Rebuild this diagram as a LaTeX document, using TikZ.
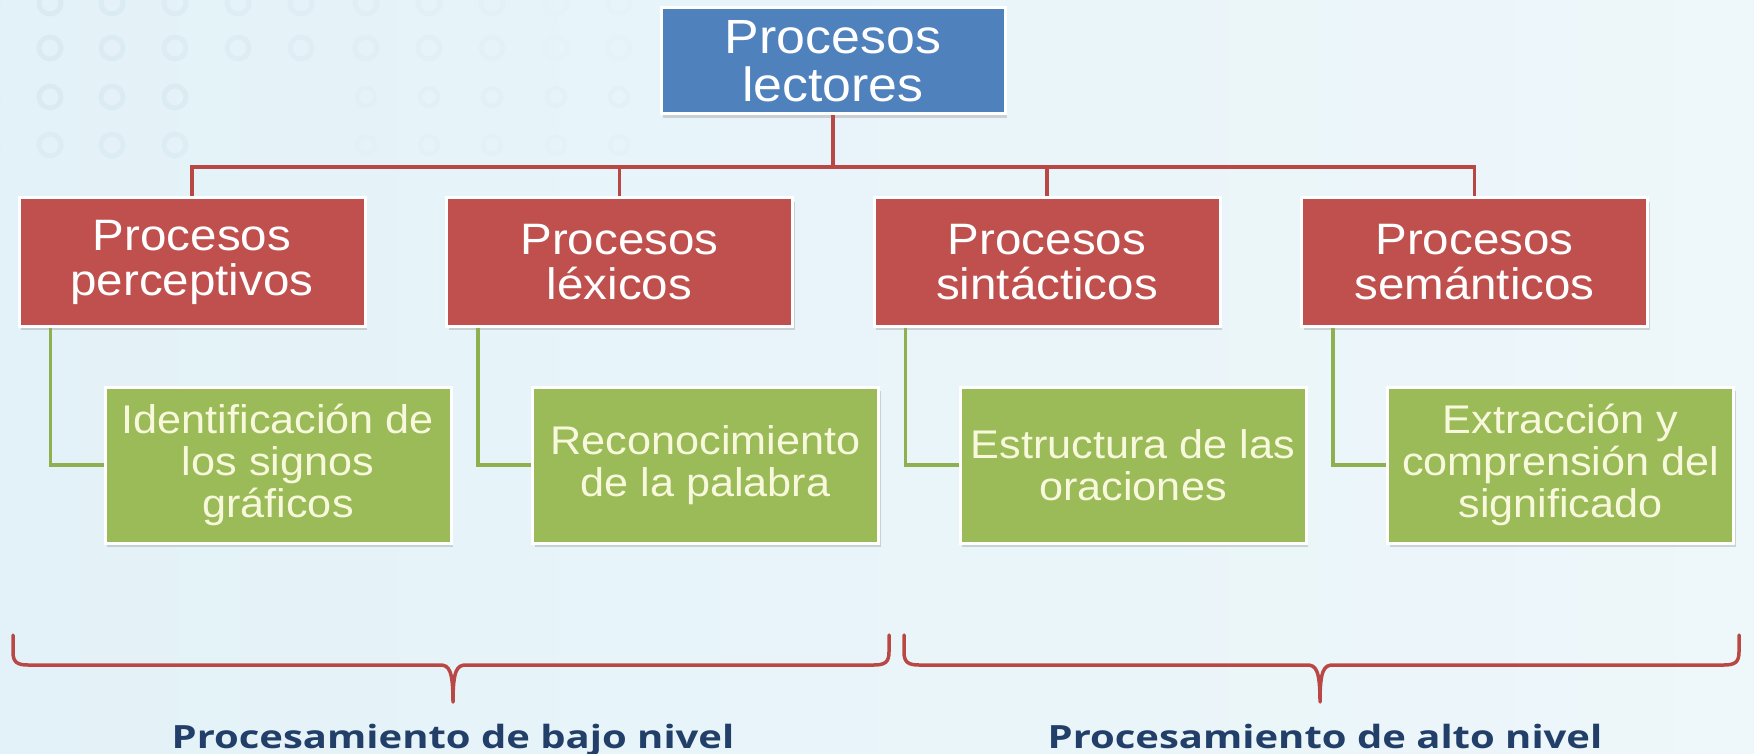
\documentclass[tikz,border=0pt]{standalone}
\usepackage{fontspec}
\setmainfont{Liberation Sans}[FakeStretch=1.08]
\newfontfamily\nivelfont{Open Sans}[FakeStretch=1.25]
\usepackage{tikz}
\usetikzlibrary{shadows}

\definecolor{azul}{HTML}{4F81BD}
\definecolor{rojo}{HTML}{C0504D}
\definecolor{verde}{HTML}{9BBB59}
\definecolor{crema}{HTML}{F8F9DC}
\definecolor{rojolinea}{HTML}{B94845}
\definecolor{verdelinea}{HTML}{8FB04F}
\definecolor{azuloscuro}{HTML}{223F69}
\definecolor{fondoA}{HTML}{E3F2F8}
\definecolor{fondoB}{HTML}{EEF7FA}
\definecolor{circulo}{HTML}{CFE3EA}

\tikzset{
  caja/.style={draw=white, line width=3pt, align=center, text=white, inner sep=0pt,
    minimum width=346pt, drop shadow={opacity=.3, shadow xshift=2pt, shadow yshift=-4pt}},
  raiz/.style={caja, fill=azul, minimum width=344pt, minimum height=106pt, font=\fontsize{48}{48}\selectfont},
  proceso/.style={caja, fill=rojo, minimum height=128pt, font=\fontsize{44}{45}\selectfont},
  tarea/.style={caja, fill=verde, text=crema, minimum height=156pt, font=\fontsize{40}{42}\selectfont},
  rama/.style={draw=rojolinea, line width=3.5pt},
  hoja/.style={draw=verdelinea, line width=3.5pt},
  llave/.style={draw=rojolinea, line width=3.5pt, line join=round, line cap=round},
  nivel/.style={text=azuloscuro, anchor=base, font=\nivelfont\bfseries\fontsize{32}{32}\selectfont}
}

\begin{document}
\begin{tikzpicture}[x=1pt,y=-1pt,node distance=427.5pt]
  \useasboundingbox (0,0) rectangle (1754,754);
  \fill[left color=fondoA, right color=fondoB] (0,0) rectangle (1754,754);

  % circulos del fondo
  \foreach \cx [count=\i] in {-13,50,112,175,238,301,366,429,492,556,619} {
    \pgfmathsetmacro{\op}{max(0.06,0.6-0.055*\i)}
    \draw[circulo, line width=5pt, opacity=\op] (\cx,3) circle (11);
    \draw[circulo, line width=5pt, opacity=\op] (\cx,48) circle (11);
  }
  \foreach \cx [count=\i] in {-13,50,112,175} {
    \draw[circulo, line width=5pt, opacity=.45] (\cx,97) circle (11);
    \draw[circulo, line width=5pt, opacity=.35] (\cx,145) circle (11);
  }
  \foreach \cx in {366,429,492,556,619} {
    \draw[circulo, line width=4pt, opacity=.15] (\cx,97) circle (9);
    \draw[circulo, line width=4pt, opacity=.1] (\cx,145) circle (9);
  }

  % nodos
  \node[raiz] (lectores) at (833,61) {Procesos\\lectores};

  \node[proceso] (percep) at (192,262) {Procesos\\perceptivos};
  \node[proceso] (lexico) [right of=percep] {Procesos\\léxicos};
  \node[proceso] (sintac) [right of=lexico] {Procesos\\sintácticos};
  \node[proceso] (seman)  [right of=sintac] {Procesos\\semánticos};

  \node[tarea] (signos)   at (278,465) {Identificación de\\los signos\\gráficos};
  \node[tarea] (palabra)  [right of=signos] {Reconocimiento\\de la palabra};
  \node[tarea] (oracion)  [right of=palabra] {Estructura de las\\oraciones};
  \node[tarea] (signif)   [right of=oracion] {Extracción y\\comprensión del\\significado};

  % conectores
  \coordinate (bus) at (833,167);
  \draw[rama] (lectores.south) -- (bus);
  \draw[rama] (percep.north) |- (bus) -| (seman.north);
  \draw[rama] (lexico.north) -- (lexico.north |- bus);
  \draw[rama] (sintac.north) -- (sintac.north |- bus);

  \draw[hoja] ([xshift=33pt]percep.south west) |- (signos.west);
  \draw[hoja] ([xshift=33pt]lexico.south west) |- (palabra.west);
  \draw[hoja] ([xshift=33pt]sintac.south west) |- (oracion.west);
  \draw[hoja] ([xshift=33pt]seman.south west) |- (signif.west);

  % llaves
  \draw[llave] (13,635) -- (13,652) .. controls (13,662) and (17,665) .. (28,665)
    -- (440,665) .. controls (449,665) and (453,670) .. (453,702)
    .. controls (453,670) and (457,665) .. (466,665) -- (874,665)
    .. controls (885,665) and (889,662) .. (889,652) -- (889,635);
  \draw[llave] (904,635) -- (904,652) .. controls (904,662) and (908,665) .. (919,665)
    -- (1307,665) .. controls (1316,665) and (1320,670) .. (1320,702)
    .. controls (1320,670) and (1324,665) .. (1333,665) -- (1724,665)
    .. controls (1735,665) and (1739,662) .. (1739,652) -- (1739,635);

  \node[nivel] (bajo) at (453,748) {Procesamiento de bajo nivel};
  \node[nivel] (alto) at (1325,748) {Procesamiento de alto nivel};
\end{tikzpicture}
\end{document}
